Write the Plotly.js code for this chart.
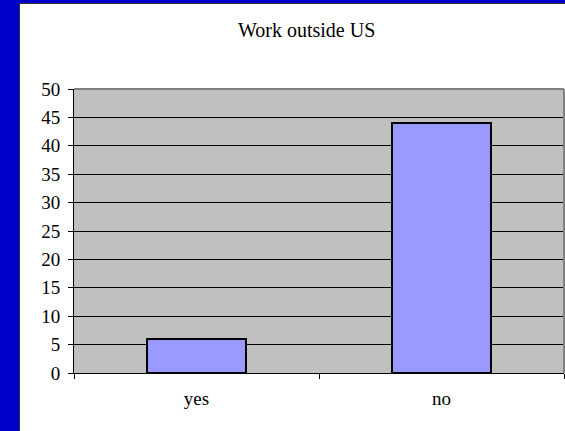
<!DOCTYPE html>
<html>
<head>
<meta charset="utf-8">
<script src="https://cdn.plot.ly/plotly-3.0.1.min.js"></script>
<style>
html,body{margin:0;padding:0;background:#0000CC;width:565px;height:431px;overflow:hidden;}
#frame{position:absolute;left:19px;top:3px;width:546px;height:428px;background:#fff;border-left:1px solid #333;border-top:1px solid #333;}
#chart{position:absolute;left:0;top:0;width:546px;height:428px;}
</style>
</head>
<body>
<div id="frame"><div id="chart"></div></div>
<script>
const categories = ["yes", "no"];
const counts = [6, 44];
const yTicks = [0, 5, 10, 15, 20, 25, 30, 35, 40, 45, 50];
const titleText = "Work outside US";

const font = "Times New Roman";

Plotly.newPlot("chart", [{
  type: "bar",
  x: categories,
  y: counts,
  marker: {color: "#9999FF", line: {color: "#000", width: 2}},
  hoverinfo: "none"
}], {
  width: 546, height: 428,
  margin: {l: 54, r: 2, t: 85, b: 59},
  paper_bgcolor: "#fff",
  plot_bgcolor: "#C0C0C0",
  bargap: 0.596,
  showlegend: false,
  font: {family: font, size: 19, color: "#000"},
  title: {text: titleText, x: 0.525, xanchor: "center", y: 0.94, yanchor: "middle",
          font: {family: font, size: 20, color: "#000"}},
  xaxis: {
    type: "category",
    tickson: "boundaries",
    ticks: "outside", ticklen: 5, tickcolor: "#000", tickwidth: 1,
    showline: true, linecolor: "#000", linewidth: 1,
    showgrid: false, zeroline: false,
    tickfont: {family: font, size: 19, color: "#000"},
    ticklabelstandoff: 8
  },
  yaxis: {
    range: [0, 50],
    tickvals: yTicks,
    ticks: "outside", ticklen: 5, tickcolor: "#000", tickwidth: 1,
    showline: true, linecolor: "#000", linewidth: 1,
    showgrid: true, gridcolor: "#000", gridwidth: 1,
    zeroline: false,
    tickfont: {family: font, size: 19, color: "#000"},
    ticklabelstandoff: 4
  },
  shapes: [
    {type: "line", xref: "paper", yref: "paper", x0: 0, x1: 1, y0: 1, y1: 1, line: {color: "#808080", width: 2}},
    {type: "line", xref: "paper", yref: "paper", x0: 1, x1: 1, y0: 0, y1: 1, line: {color: "#808080", width: 2}}
  ]
}, {displayModeBar: false, staticPlot: true});
</script>
</body>
</html>
